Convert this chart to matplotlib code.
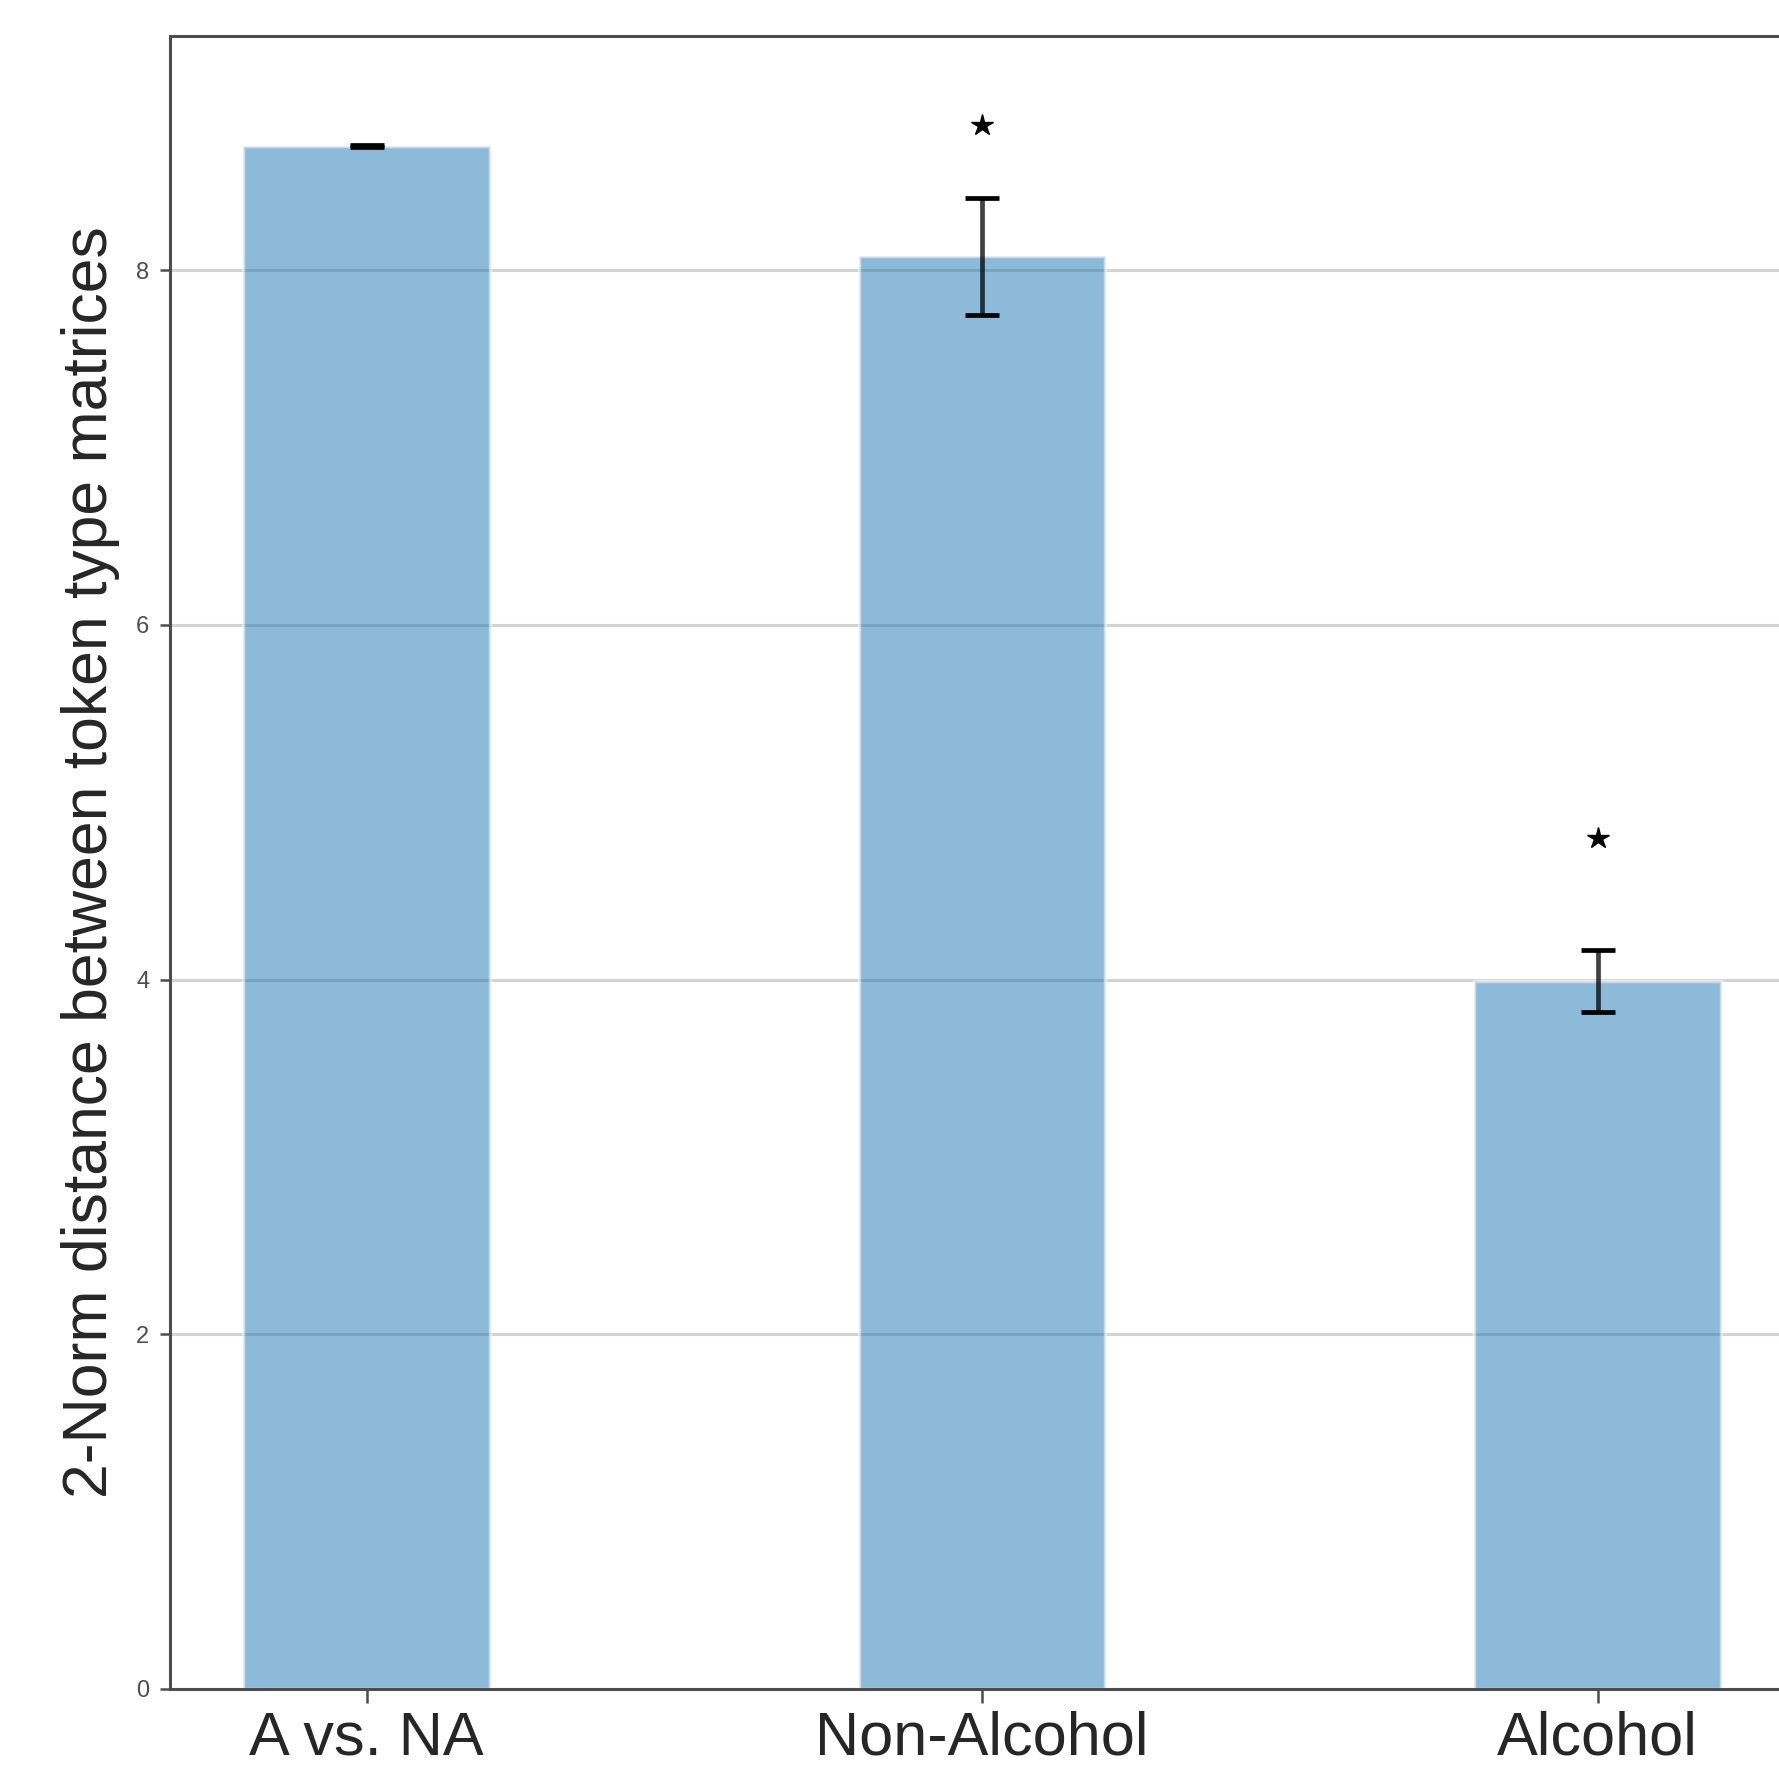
import matplotlib
matplotlib.use("Agg")
import matplotlib.pyplot as plt

# data
groups = ["A vs. NA", "Non-Alcohol", "Alcohol"]
norm_dist = [8.70, 8.08, 3.99]
norm_err = [0.005, 0.33, 0.175]
star_y = [None, 8.82, 4.80]

plt.rcParams['font.family'] = ['Liberation Sans', 'DejaVu Sans']

fig = plt.figure(figsize=(17.79, 17.75), dpi=100)
ax = fig.add_axes([0.0957, 0.0486, 0.9127, 0.9309])

x = list(range(len(groups)))
ax.bar(x, norm_dist, width=0.4, color='tab:blue', alpha=0.5,
       edgecolor='white', linewidth=2.5, zorder=2)
# error bars: grey stem, black caps
eb = ax.errorbar(x, norm_dist, yerr=norm_err, fmt='none', ecolor='black',
                 elinewidth=3.4, capsize=12, capthick=3.4, zorder=3)
for ln in eb[2]:
    ln.set_alpha(0.75)

for xi, sy in zip(x, star_y):
    if sy is not None:
        ax.plot(xi, sy, marker='*', color='black', markersize=16,
                linestyle='none', zorder=4)

ax.set_xlim(-0.319, 2.319)
ax.set_ylim(0, 9.32)
ax.set_yticks([0, 2, 4, 6, 8])
ax.set_xticks(x)
ax.set_xticklabels(groups, fontsize=44, color='#262626')
ax.tick_params(axis='y', labelsize=17, colors='#4d4d4d', length=7,
               width=1.8, pad=8)
ax.tick_params(axis='x', length=10, width=1.8, color='#4d4d4d', pad=6)
ax.set_ylabel("2-Norm distance between token type matrices", fontsize=45,
              color='#262626', labelpad=12)

ax.set_axisbelow(True)
ax.yaxis.grid(True, color='#d3d3d3', linewidth=2.2)
ax.xaxis.grid(False)
for side in ['left', 'bottom', 'top', 'right']:
    ax.spines[side].set_color('#4d4d4d')
    ax.spines[side].set_linewidth(2.2)

fig.savefig("out.png", dpi=100)
